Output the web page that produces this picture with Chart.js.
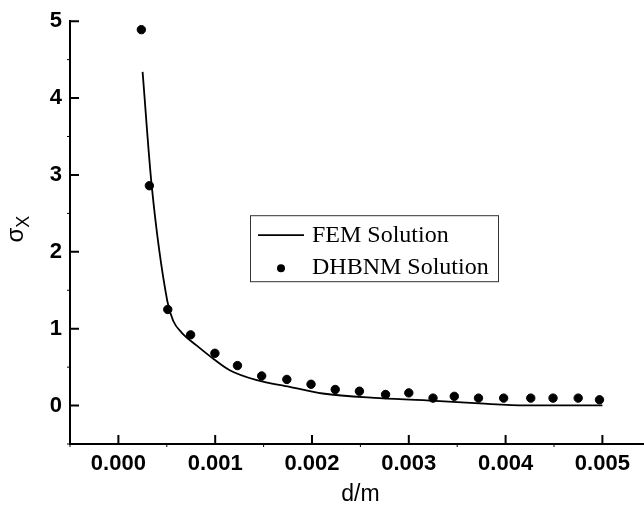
<!DOCTYPE html>
<html>
<head>
<meta charset="utf-8">
<script src="https://cdn.jsdelivr.net/npm/chart.js@4.4.0/dist/chart.umd.min.js"></script>
<style>
  body { margin: 0; overflow: hidden; background: #fff; }
  #wrap { width: 656px; height: 508px; }
</style>
</head>
<body>
<div id="wrap"><canvas id="chart"></canvas></div>
<script>
// FEM solution (solid line)
const femX = [0.00025, 0.000344, 0.000505, 0.000567, 0.000653, 0.00081, 0.00098, 0.00115, 0.00143, 0.00177, 0.00211, 0.0027, 0.00332, 0.00373, 0.00421, 0.005];
const femY = [4.34, 2.86, 1.36, 1.10, 0.95, 0.78, 0.61, 0.46, 0.33, 0.243, 0.157, 0.097, 0.058, 0.028, 0.003, 0.003];

// DHBNM solution (dots)
const dhbnmX = [0.000237, 0.00032, 0.00051, 0.000746, 0.000997, 0.00123, 0.00148, 0.00174, 0.00199, 0.00224, 0.00249, 0.00276, 0.003, 0.00325, 0.00347, 0.00372, 0.00398, 0.00426, 0.00449, 0.00475, 0.00497];
const dhbnmY = [4.89, 2.86, 1.25, 0.92, 0.68, 0.52, 0.385, 0.34, 0.277, 0.209, 0.187, 0.144, 0.165, 0.097, 0.12, 0.097, 0.097, 0.097, 0.097, 0.097, 0.075];

const xTicks = [0, 0.001, 0.002, 0.003, 0.004, 0.005];
const yTicks = [0, 1, 2, 3, 4, 5];
const xMinor = [-0.0005, 0.0005, 0.0015, 0.0025, 0.0035, 0.0045];
const yMinor = [-0.5, 0.5, 1.5, 2.5, 3.5, 4.5];

const tickFont = { family: 'Liberation Sans, Arial', size: 22, weight: 'bold' };

// ticks pointing into the plot, plus the sigma_x title and the legend box
const extras = {
    id: 'extras',
    afterDraw(chart) {
        const ctx = chart.ctx;
        const x = chart.scales.x, y = chart.scales.y;
        const a = chart.chartArea;
        ctx.save();
        ctx.strokeStyle = '#000';
        ctx.lineWidth = 2;
        ctx.beginPath();
        xTicks.forEach(v => { const px = x.getPixelForValue(v); ctx.moveTo(px, a.bottom); ctx.lineTo(px, a.bottom - 9); });
        yTicks.forEach(v => { const py = y.getPixelForValue(v); ctx.moveTo(a.left, py); ctx.lineTo(a.left + 9, py); });
        ctx.stroke();
        ctx.lineWidth = 1;
        ctx.beginPath();
        xMinor.forEach(v => { const px = x.getPixelForValue(v); ctx.moveTo(px, a.bottom); ctx.lineTo(px, a.bottom + 3); });
        yMinor.forEach(v => { const py = y.getPixelForValue(v); ctx.moveTo(a.left, py); ctx.lineTo(a.left - 3, py); });
        ctx.stroke();

        // y title: sigma with subscript X
        ctx.fillStyle = '#000';
        ctx.translate(23, (a.top + a.bottom) / 2 + 10);
        ctx.rotate(-Math.PI / 2);
        ctx.textBaseline = 'alphabetic';
        ctx.font = '24px "Liberation Sans", Arial';
        ctx.fillText('σ', 0, 0);
        const w = ctx.measureText('σ').width;
        ctx.font = '18px "Liberation Sans", Arial';
        ctx.fillText('X', w, 6);
        ctx.setTransform(1, 0, 0, 1, 0, 0);

        // legend
        const bx = a.left + 180, by = a.top + 194, bw = 248, bh = 66;
        ctx.lineWidth = 1;
        ctx.strokeStyle = '#333';
        ctx.strokeRect(bx + 0.5, by + 0.5, bw, bh);
        ctx.font = '24px "Liberation Serif", "Times New Roman"';
        ctx.textBaseline = 'alphabetic';
        ctx.fillText(chart.data.datasets[0].label, bx + 62, by + 27);
        ctx.fillText(chart.data.datasets[1].label, bx + 62, by + 59);
        ctx.strokeStyle = '#000';
        ctx.lineWidth = 1.8;
        ctx.beginPath();
        ctx.moveTo(bx + 8, by + 20);
        ctx.lineTo(bx + 54, by + 20);
        ctx.stroke();
        ctx.beginPath();
        ctx.arc(bx + 31, by + 53, 4, 0, Math.PI * 2);
        ctx.fill();
        ctx.restore();
    }
};

new Chart(document.getElementById('chart'), {
    type: 'scatter',
    data: {
        datasets: [
            {
                label: 'FEM Solution',
                data: femX.map((v, i) => ({ x: v, y: femY[i] })),
                showLine: true,
                borderColor: '#000',
                borderWidth: 1.8,
                pointRadius: 0,
                cubicInterpolationMode: 'monotone'
            },
            {
                label: 'DHBNM Solution',
                data: dhbnmX.map((v, i) => ({ x: v, y: dhbnmY[i] })),
                showLine: false,
                backgroundColor: '#000',
                borderColor: '#000',
                pointRadius: 4.2
            }
        ]
    },
    options: {
        responsive: true,
        maintainAspectRatio: false,
        animation: false,
        layout: { padding: { top: 18, right: 4, left: 0, bottom: 0 } },
        plugins: { legend: { display: false }, tooltip: { enabled: false } },
        scales: {
            x: {
                type: 'linear',
                min: -0.0005,
                max: 0.0055,
                afterBuildTicks: s => { s.ticks = xTicks.map(v => ({ value: v })); },
                afterFit: s => { s.height = 64; },
                grid: { display: false, drawTicks: false },
                border: { display: true, color: '#000', width: 2 },
                ticks: { color: '#000', font: tickFont, padding: 7, maxRotation: 0, callback: v => v.toFixed(3) },
                title: { display: true, text: 'd/m', color: '#000', font: { family: 'Liberation Sans, Arial', size: 23 }, padding: { top: 0, bottom: 0 } }
            },
            y: {
                type: 'linear',
                min: -0.5,
                max: 5,
                afterBuildTicks: s => { s.ticks = yTicks.map(v => ({ value: v })); },
                afterFit: s => { s.width = 70; },
                grid: { display: false, drawTicks: false },
                border: { display: true, color: '#000', width: 2 },
                ticks: { color: '#000', font: tickFont, padding: 8, callback: v => String(v) }
            }
        }
    },
    plugins: [extras]
});
</script>
</body>
</html>
